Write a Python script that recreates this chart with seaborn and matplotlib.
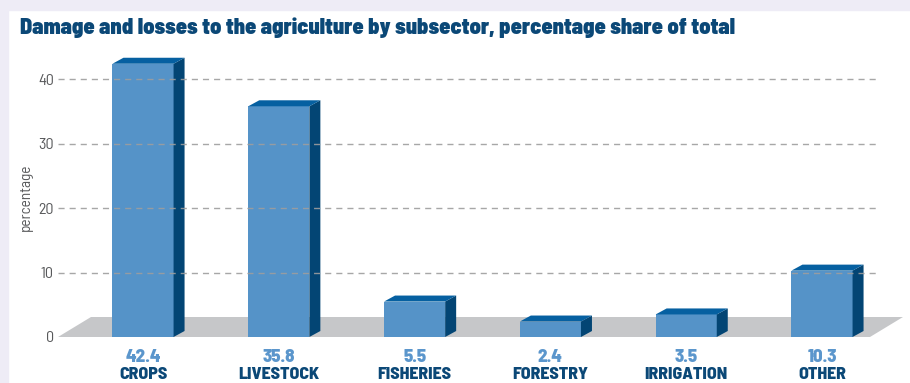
import matplotlib
matplotlib.use("Agg")
import matplotlib.pyplot as plt
import seaborn as sns
import pandas as pd
from matplotlib.patches import Polygon, Rectangle

# Data
subsectors = ["CROPS", "LIVESTOCK", "FISHERIES", "FORESTRY", "IRRIGATION", "OTHER"]
shares = [42.4, 35.8, 5.5, 2.4, 3.5, 10.3]
y_ticks = [0, 10, 20, 30, 40]
title = "Damage and losses to the agriculture by subsector, percentage share of total"

sns.set_theme(style="white")
SEMI = ["Barlow Semi Condensed", "Barlow Condensed", "Roboto Condensed", "DejaVu Sans"]
plt.rcParams["font.family"] = SEMI

FRONT = "#5593c8"
TOP = "#0660a1"
SIDE = "#034574"
FLOOR = "#c6c7c9"
NAVY = "#0b4877"
VALUE = "#5b96cc"
GREY = "#58595b"
FRAME = "#eeecf6"

W, H = 910, 383
fig = plt.figure(figsize=(W / 100, H / 100), dpi=100)
fig.patch.set_facecolor("white")
fig.patches.append(Rectangle((0, 1 - 10 / H), 1, 10 / H, transform=fig.transFigure,
                             color=FRAME, zorder=0))
fig.patches.append(Rectangle((0, 0), 8 / W, 1, transform=fig.transFigure,
                             color=FRAME, zorder=0))

ax = fig.add_axes([58 / W, 1 - 337 / H, (877 - 58) / W, (337 - 47) / H])
ax.set_facecolor("none")

df = pd.DataFrame({"subsector": subsectors, "share": shares})
sns.barplot(data=df, x="subsector", y="share", color=FRONT, saturation=1,
            width=0.45, ax=ax, zorder=3, linewidth=0)

ax.set_xlim(-0.626, 5.405)
ax.set_ylim(0, 45)

# pixel scale of the data axes
p0 = ax.transData.transform((0, 0))
p1 = ax.transData.transform((1, 1))
px_x = p1[0] - p0[0]
px_y = p1[1] - p0[1]

# floor slab
fdx, fdy = 33 / px_x, 20 / px_y
xl, xr = -0.626, -0.626 + (870 - 58) / px_x
ax.add_patch(Polygon([(xl, 0), (xr, 0), (xr + fdx, fdy), (xl + fdx, fdy)],
                     closed=True, facecolor=FLOOR, edgecolor="none",
                     zorder=1, clip_on=False))

# depth faces of the bars
bdx, bdy = 11 / px_x, 6 / px_y
for bar in list(ax.patches):
    if not isinstance(bar, Rectangle):
        continue
    x0 = bar.get_x()
    x1 = x0 + bar.get_width()
    h = bar.get_height()
    ax.add_patch(Polygon([(x1, 0), (x1, h), (x1 + bdx, h + bdy), (x1 + bdx, bdy)],
                         closed=True, facecolor=SIDE, edgecolor="none",
                         zorder=3, clip_on=False))
    ax.add_patch(Polygon([(x0, h), (x1, h), (x1 + bdx, h + bdy), (x0 + bdx, h + bdy)],
                         closed=True, facecolor=TOP, edgecolor="none",
                         zorder=3, clip_on=False))

# dashed grid lines
for t in y_ticks[1:]:
    ax.axhline(t, color="#9e9e9e", lw=1.0, dashes=(4.4, 3.6), zorder=5, alpha=0.9)

sns.despine(ax=ax, left=True, bottom=True)
ax.set_xticks([])
ax.set_xlabel("")
ax.set_yticks(y_ticks)
ax.set_yticklabels([str(t) for t in y_ticks])
ax.tick_params(axis="y", length=0, pad=3, labelsize=11.5, labelcolor=GREY)
ax.set_ylabel("percentage", fontsize=11, color=GREY)
ax.yaxis.set_label_coords((33 - 58) / 819, (337 - 197) / 290)

# value and subsector labels under each bar
for i, (name, v) in enumerate(zip(subsectors, shares)):
    ax.annotate(f"{v:.1f}", xy=(i, 0), xytext=(0, -18), textcoords="offset points",
                ha="center", va="baseline", fontsize=13.5, fontweight=800,
                color=VALUE, annotation_clip=False)
    ax.annotate(name, xy=(i, 0), xytext=(0, -30.2), textcoords="offset points",
                ha="center", va="baseline", fontsize=12.8, fontweight=800,
                color=NAVY, annotation_clip=False)

fig.text(20 / W, 1 - 34 / H, title, ha="left", va="baseline", fontsize=16.0,
         fontweight=900,
         family=["Barlow Semi Condensed", "Barlow", "Archivo Black", "DejaVu Sans"],
         color=NAVY)

fig.savefig("out.png", dpi=100, facecolor=fig.get_facecolor())
